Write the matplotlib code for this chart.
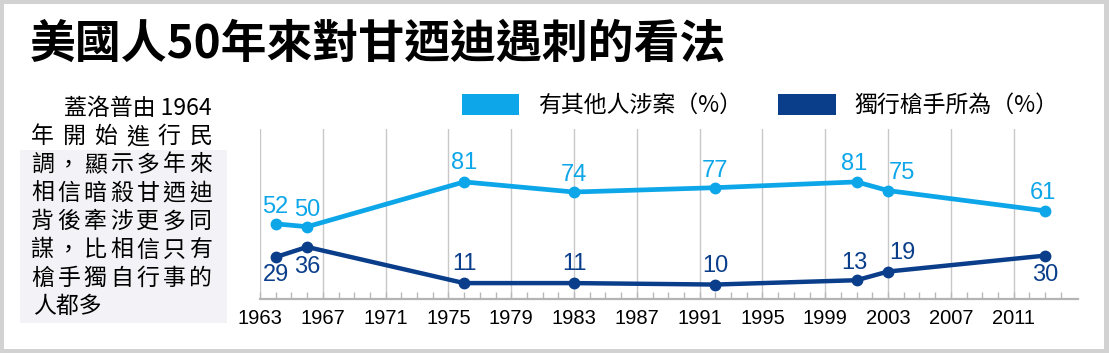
import matplotlib
matplotlib.use("Agg")
import matplotlib.pyplot as plt
from matplotlib.patches import Rectangle, Patch
import numpy as np

plt.rcParams['font.family'] = ['Noto Sans CJK TC', 'DejaVu Sans']

# data (Gallup polls)
years = [1964, 1966, 1976, 1983, 1992, 2001, 2003, 2013]
others_involved = [52, 50, 81, 74, 77, 81, 75, 61]
lone_gunman = [29, 36, 11, 11, 10, 13, 19, 30]
series_names = ['有其他人涉案（%）', '獨行槍手所為（%）']
tick_years = list(range(1963, 2012, 4))

title = '美國人50年來對甘迺迪遇刺的看法'
intro_lines = ['蓋洛普由 1964', '年開始進行民', '調，顯示多年來', '相信暗殺甘迺迪',
               '背後牽涉更多同', '謀，比相信只有', '槍手獨自行事的', '人都多']

light = '#0DA6E8'
dark = '#0A3E8B'

W, H = 1109, 353
fig = plt.figure(figsize=(W / 100, H / 100), dpi=100)
fig.patch.set_facecolor('#d2d2d2')


def fx(px):
    return px / W


def fy(py):
    return 1 - py / H


# white card inside gray frame
fig.patches.append(Rectangle((fx(4), fy(H - 4)), fx(W - 9), (H - 8) / H,
                             transform=fig.transFigure, facecolor='white',
                             edgecolor='none', zorder=-2))
# shaded intro box
fig.patches.append(Rectangle((fx(20), fy(323)), fx(207), 173 / H,
                             transform=fig.transFigure, facecolor='#f3f3f7',
                             edgecolor='none', zorder=-1))

fig.text(fx(30), fy(45), title, fontsize=33, weight='black', color='black',
         ha='left', va='center')

# intro paragraph, justified by hand
line_y = [108, 136.7, 165, 193.3, 221.7, 250, 278.3, 306.7]
txt_kw = dict(fontsize=16.5, color='black', va='center')
for i, line in enumerate(intro_lines):
    y = fy(line_y[i])
    if i == 0:
        fig.text(fx(212), y, line, ha='right', **txt_kw)
    elif i == len(intro_lines) - 1:
        fig.text(fx(33), y, line, ha='left', **txt_kw)
    else:
        xs = np.linspace(42.5, 200.5, len(line))
        for ch, x in zip(line, xs):
            fig.text(fx(x), y, ch, ha='center', **txt_kw)

ax = fig.add_axes([fx(260), fy(299), fx(818), 170 / H])
ax.set_facecolor('none')

ax.plot(years, others_involved, color=light, lw=3.4, marker='o', ms=7.5,
        solid_capstyle='round', zorder=3)
ax.plot(years, lone_gunman, color=dark, lw=3.2, marker='o', ms=7.5,
        solid_capstyle='round', zorder=3)

light_off = [(0, 17), (0, 17), (0, 19), (0, 17), (0, 17), (-2, 18), (14, 18), (-2, 18)]
dark_off = [(0, -18), (0, -20), (0, 19), (0, 19), (0, 19), (-2, 17), (14, 19), (0, -19)]
for x, v, off in zip(years, others_involved, light_off):
    ax.annotate(str(v), (x, v), xytext=off, textcoords='offset pixels',
                ha='center', va='center', fontsize=17, color=light,
                family='Liberation Sans')
for x, v, off in zip(years, lone_gunman, dark_off):
    ax.annotate(str(v), (x, v), xytext=off, textcoords='offset pixels',
                ha='center', va='center', fontsize=17, color=dark,
                family='Liberation Sans')

ax.set_xlim(1963, 2015.1)
ax.set_ylim(0, 117.6)
ax.set_xticks(tick_years)
ax.set_xticks(np.arange(1963, 2015), minor=True)
ax.set_yticks([])
ax.tick_params(axis='x', which='both', direction='in', length=5, width=1,
               color='#b8b8b8', pad=7)
for lab in ax.get_xticklabels():
    lab.set_family('Liberation Sans')
    lab.set_fontsize(14.5)
    lab.set_color('black')
ax.grid(axis='x', which='major', color='#c8c8c8', lw=1)
ax.set_axisbelow(True)
for s in ['left', 'top', 'right']:
    ax.spines[s].set_visible(False)
ax.spines['bottom'].set_color('#b4b4b4')
ax.spines['bottom'].set_linewidth(1.6)

handles = [Patch(facecolor=light, edgecolor='none', label=series_names[0]),
           Patch(facecolor=dark, edgecolor='none', label=series_names[1])]
fig.legend(handles=handles, loc='upper left',
           bbox_to_anchor=(fx(462), fy(94)), ncol=2, frameon=False,
           fontsize=16.5, handlelength=2.5, handleheight=1.0,
           handletextpad=0.8, columnspacing=1.6, borderpad=0,
           borderaxespad=0)

fig.savefig('out.png', dpi=100)
